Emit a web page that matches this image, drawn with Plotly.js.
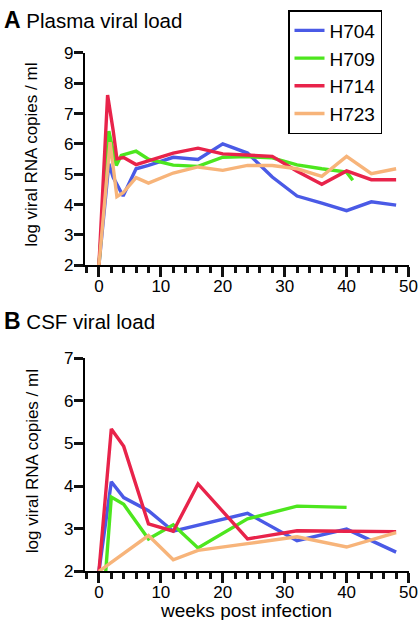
<!DOCTYPE html>
<html>
<head>
<meta charset="utf-8">
<script src="https://cdn.plot.ly/plotly-3.0.1.min.js"></script>
<style>html,body{margin:0;padding:0;background:#fff;}#chart{width:420px;height:620px;}</style>
</head>
<body>
<div id="chart"></div>
<script>
// ---- Data ----
const seriesNames = ["H704", "H709", "H714", "H723"];
const seriesColors = ["#4a5ae6", "#4de61e", "#e8234a", "#f7b47a"];

// Panel A: plasma viral load (weeks, log copies/ml)
const plasmaWeeksH704 = [0, 1.6, 2.3, 3.9, 6, 8, 12, 16, 20, 24, 28, 32, 36, 40, 44, 48];
const plasmaH704      = [2, 5.35, 4.9, 4.28, 5.18, 5.29, 5.56, 5.49, 6.0, 5.70, 4.91, 4.28, 4.05, 3.80, 4.09, 3.98];
const plasmaWeeksH709 = [0, 1.6, 2.8, 3.6, 6, 8, 12, 16, 20, 24, 28, 32, 36, 40, 41];
const plasmaH709      = [2, 6.42, 5.29, 5.62, 5.76, 5.5, 5.3, 5.26, 5.56, 5.58, 5.54, 5.31, 5.18, 5.07, 4.8];
const plasmaWeeksH714 = [0, 1.4, 2.3, 2.9, 4, 6, 12, 16, 20, 24, 28, 32, 36, 40, 44, 48];
const plasmaH714      = [2, 7.61, 6.44, 5.51, 5.55, 5.32, 5.70, 5.86, 5.67, 5.62, 5.59, 5.1, 4.67, 5.11, 4.82, 4.82];
const plasmaWeeksH723 = [0, 1.8, 2.9, 3.9, 6, 8, 12, 16, 20, 24, 28, 32, 36, 40, 44, 48];
const plasmaH723      = [2, 6.06, 4.26, 4.39, 4.89, 4.71, 5.04, 5.24, 5.13, 5.29, 5.29, 5.18, 4.93, 5.59, 5.02, 5.18];

// Panel B: CSF viral load
const csfWeeksH704 = [0, 2, 4, 8, 12, 24, 32, 40, 48];
const csfH704      = [2, 4.10, 3.73, 3.42, 2.94, 3.36, 2.72, 2.99, 2.45];
const csfWeeksH709 = [1.1, 2, 4, 8, 12, 16, 24, 32, 40];
const csfH709      = [2, 3.74, 3.57, 2.76, 3.09, 2.55, 3.23, 3.53, 3.50];
const csfWeeksH714 = [0, 2, 4, 8, 12, 16, 24, 32, 40, 48];
const csfH714      = [2, 5.34, 4.93, 3.11, 2.94, 4.05, 2.76, 2.95, 2.94, 2.93];
const csfWeeksH723 = [0, 8, 12, 16, 24, 32, 40, 48];
const csfH723      = [2, 2.84, 2.27, 2.49, 2.65, 2.81, 2.57, 2.91];

const xMajorTicks = [0, 10, 20, 30, 40, 50];
const yTicksA = [2, 3, 4, 5, 6, 7, 8, 9];
const yTicksB = [2, 3, 4, 5, 6, 7];

// ---- Build traces ----
const plasmaX = [plasmaWeeksH704, plasmaWeeksH709, plasmaWeeksH714, plasmaWeeksH723];
const plasmaY = [plasmaH704, plasmaH709, plasmaH714, plasmaH723];
const csfX = [csfWeeksH704, csfWeeksH709, csfWeeksH714, csfWeeksH723];
const csfY = [csfH704, csfH709, csfH714, csfH723];

const traces = [];
seriesNames.forEach((n, i) => {
  traces.push({x: plasmaX[i], y: plasmaY[i], name: n, type: 'scatter', mode: 'lines',
    line: {color: seriesColors[i], width: 3.4}, xaxis: 'x', yaxis: 'y', showlegend: true, legendgroup: n});
});
seriesNames.forEach((n, i) => {
  traces.push({x: csfX[i], y: csfY[i], name: n, type: 'scatter', mode: 'lines',
    line: {color: seriesColors[i], width: 3.4}, xaxis: 'x2', yaxis: 'y2', showlegend: false, legendgroup: n});
});

const H = 620, W = 420;
const ML = 10, MR = 10, MT = 10, MB = 10;
const PW = W - ML - MR, PH = H - MT - MB;
const py = p => (H - MB - p) / PH;   // pixel row -> paper fraction
const px = p => (p - ML) / PW;

const tf = s => ({family: 'Liberation Sans', color: 'black', size: s});
const xDomain = [px(85), px(408.5)];
const xRange = [-2.25, 50];

function xAx(anchor) {
  return {
    domain: xDomain, range: xRange, anchor: anchor, tickmode: 'array', tickvals: xMajorTicks,
    showline: true, linewidth: 2.2, linecolor: 'black',
    ticks: 'outside', ticklen: 10, tickwidth: 3, tickcolor: '#111111',
    minor: {ticks: 'outside', dtick: 2, tick0: 0, ticklen: 6, tickwidth: 3, tickcolor: '#111111', showgrid: false},
    ticklabelstandoff: -6,
    showgrid: false, zeroline: false, tickfont: tf(17)
  };
}
function yAx(domain, range, vals, anchor) {
  return {
    domain: domain, range: range, anchor: anchor, tickmode: 'array', tickvals: vals,
    showline: true, linewidth: 2.2, linecolor: 'black',
    ticks: 'outside', ticklen: 9, tickwidth: 3, tickcolor: '#111111', ticklabelstandoff: -3,
    showgrid: false, zeroline: false, tickfont: tf(17)
  };
}

const layout = {
  width: W, height: H,
  margin: {l: ML, r: MR, t: MT, b: MB, pad: 0},
  paper_bgcolor: 'white', plot_bgcolor: 'white',
  font: {family: 'Liberation Sans', color: 'black'},
  xaxis: xAx('y'),
  yaxis: yAx([py(262.3), py(48.3)], [2, 9], yTicksA, 'x'),
  xaxis2: xAx('y2'),
  yaxis2: yAx([py(571), py(356)], [2, 7], yTicksB, 'x2'),
  showlegend: true,
  legend: {
    x: px(288), y: py(5), xanchor: 'left', yanchor: 'top',
    bordercolor: 'black', borderwidth: 1.5, bgcolor: 'white',
    font: tf(19), tracegroupgap: 0, itemwidth: 30
  },
  annotations: [
    {text: '<span style="font-size:23px"><b>A</b></span> Plasma viral load', xref: 'paper', yref: 'paper',
      x: px(2), y: py(15), xanchor: 'left', yanchor: 'middle', showarrow: false, font: tf(20.5)},
    {text: '<span style="font-size:23px"><b>B</b></span> CSF viral load', xref: 'paper', yref: 'paper',
      x: px(2), y: py(319), xanchor: 'left', yanchor: 'middle', showarrow: false, font: tf(20.5)},
    {text: 'log viral RNA copies / ml', xref: 'paper', yref: 'paper', textangle: -90,
      x: px(32), y: py(151), xanchor: 'center', yanchor: 'middle', showarrow: false, font: tf(17)},
    {text: 'log viral RNA copies / ml', xref: 'paper', yref: 'paper', textangle: -90,
      x: px(32), y: py(460), xanchor: 'center', yanchor: 'middle', showarrow: false, font: tf(17)},
    {text: 'weeks post infection', xref: 'paper', yref: 'paper',
      x: px(246), y: py(611), xanchor: 'center', yanchor: 'middle', showarrow: false, font: tf(19)}
  ]
};

Plotly.newPlot('chart', traces, layout, {displayModeBar: false});
</script>
</body>
</html>
